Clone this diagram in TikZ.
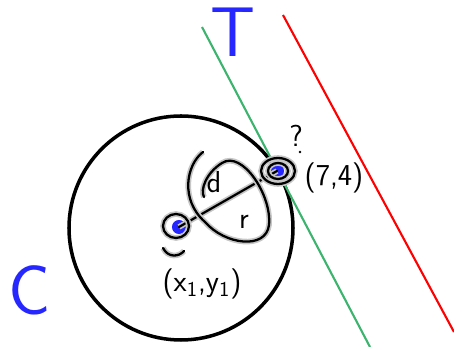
\documentclass[tikz,border=0pt]{standalone}
\usepackage{xcolor}
\usetikzlibrary{positioning}
\definecolor{tgreen}{RGB}{60,180,110}
\tikzset{
  dot/.style={circle, fill=blue!85, inner sep=0pt, minimum size=8pt},
  scribble/.style={line width=1.3pt, black, line cap=round,
    preaction={draw=gray!45, line width=3.2pt}},
  hand/.style={font=\sffamily\LARGE, inner sep=1pt},
  bigletter/.style={font=\sffamily\fontsize{40}{40}\selectfont, text=blue!85},
}

\begin{document}
\begin{tikzpicture}[x=0.02cm, y=-0.02cm]
  \useasboundingbox (0,0) rectangle (454,347);

  % circle C
  \draw[line width=2pt] (181,228) circle (112);

  % tangent T and the parallel line
  \coordinate (t1) at (202,27);
  \coordinate (t2) at (370,347);
  \coordinate (p1) at (283,15);
  \coordinate (p2) at (454,332);
  \draw[tgreen, line width=1.2pt] (t1) -- (t2);
  \draw[red, line width=1.2pt] (p1) -- (p2);

  % points
  \node[dot] (ctr) at (179,227) {};
  \node[dot] (tan) at (277,171) {};
  \draw[scribble] (ctr.center) -- (tan.center);

  % rings round the points
  \draw[scribble] (176,226) ellipse (13 and 12);
  \draw[scribble] (278,171) ellipse (10 and 8);
  \draw[scribble] (278,171) ellipse (17 and 13);

  % loop round d and r
  \draw[scribble] (203,152) .. controls (186,165) and (180,200) .. (205,222)
    .. controls (225,245) and (266,250) .. (269,225)
    .. controls (272,195) and (242,150) .. (222,163)
    .. controls (206,173) and (200,190) .. (204,197);
  \draw[scribble] (163,248) .. controls (168,258) and (179,257) .. (184,251);

  % labels
  \node[bigletter] (T) at (233,32) {T};
  \node[bigletter] (C) at (30,290) {C};
  \node[hand] (d) at (214,182) {d};
  \node[hand] (r) at (244,222) {r};
  \node[hand] (xy) at (202,284) {(x\textsubscript{1},y\textsubscript{1})};
  \node[hand] (pt) at (334,178) {(7,4)};
  \node[hand] (qm) at (296,136) {?};
  \fill (300,152) circle (1.3);

\end{tikzpicture}
\end{document}
